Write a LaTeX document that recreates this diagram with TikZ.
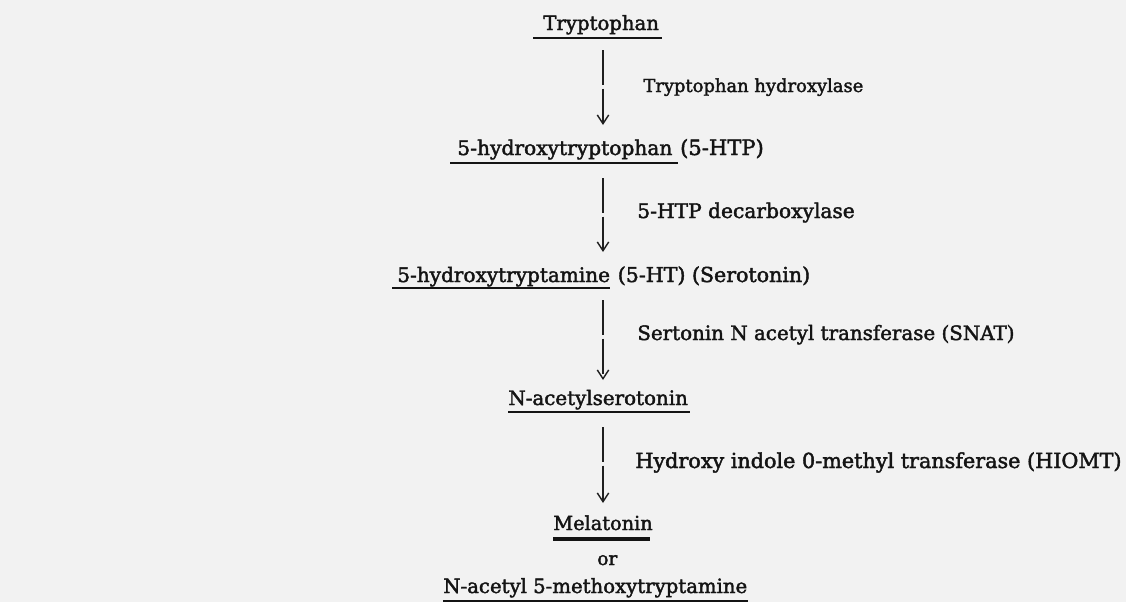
\documentclass[tikz,border=0pt]{standalone}
\usepackage{fontspec}
\setmainfont{DejaVu Serif}[RawFeature={embolden=2}]
\usetikzlibrary{arrows.meta,calc,positioning}

\tikzset{
  sz/.style={font=\fontsize{#1}{#1}\selectfont},
  cmpd/.style={anchor=base west, inner sep=0pt, text=black!92, sz=11.3pt},
  uline/.style={line width=1.6pt, draw=black!92},
  flow/.style={draw, line width=0.8pt, draw=black!88, dash pattern=on 20pt off 2pt,
    -{Straight Barb[length=5pt,width=6.5pt,line width=0.8pt]}}
}

\begin{document}
\begin{tikzpicture}[x=0.02cm, y=-0.02cm]
      \fill[black!5] (0,0) rectangle (1126,602) ;
      \useasboundingbox (0,0) rectangle (1126,602) ;

      \coordinate (col) at (603,0) ;

      \node[cmpd, sz=11.2pt] (tryp) at (543,30) {Tryptophan} ;
      \node[cmpd, sz=10.2pt] (tph) at (643,92) {Tryptophan hydroxylase} ;

      \node[cmpd, sz=11.5pt] (htp) at (457,155) {5-hydroxytryptophan} ;
      \node[cmpd, sz=12pt, base right=4pt of htp] (htpabbr) {(5-HTP)} ;
      \node[cmpd, sz=11.5pt] (decarb) at (637,218) {5-HTP decarboxylase} ;

      \node[cmpd, sz=11.4pt] (ht) at (397,282) {5-hydroxytryptamine} ;
      \node[cmpd, sz=11.7pt, base right=4pt of ht] (htabbr) {(5-HT) (Serotonin)} ;
      \node[cmpd] (snat) at (637,340) {Sertonin N acetyl transferase (SNAT)} ;

      \node[cmpd] (nas) at (508,405) {N-acetylserotonin} ;
      \node[cmpd, sz=11.8pt] (hiomt) at (635,468) {Hydroxy indole 0-methyl transferase (HIOMT)} ;

      \node[cmpd, sz=11pt] (mel) at (553,530) {Melatonin} ;
      \node[cmpd, sz=10.5pt] (orword) at (597,565) {or} ;
      \node[cmpd, sz=11.2pt] (nam) at (443,593) {N-acetyl 5-methoxytryptamine} ;

      \draw[uline] ($(tryp.base west)+(-10,8)$) -- ($(tryp.base east)+(3,8)$) ;
      \draw[uline] ($(htp.base west)+(-7,8)$) -- ($(htp.base east)+(5,8)$) ;
      \draw[uline] ($(ht.base west)+(-5,6)$) -- ($(ht.base east)+(0,6)$) ;
      \draw[uline] ($(nas.base west)+(0,7)$) -- ($(nas.base east)+(2,7)$) ;
      \draw[uline, line width=2pt] ($(mel.base west)+(0,9)$) -- ($(mel.base east)+(-3,9)$) ;
      \draw[uline] ($(nam.base west)+(0,8)$) -- ($(nam.base east)+(0,8)$) ;

      \path
      ($(tryp.base -| col)+(0,20)$) edge[flow] ($(htp.base -| col)+(0,-30)$)
      ($(htp.base -| col)+(0,23)$) edge[flow] ($(ht.base -| col)+(0,-30)$)
      ($(ht.base -| col)+(0,18)$) edge[flow] ($(nas.base -| col)+(0,-25)$)
      ($(nas.base -| col)+(0,22)$) edge[flow] ($(mel.base -| col)+(0,-27)$)
      ;

\end{tikzpicture}
\end{document}
